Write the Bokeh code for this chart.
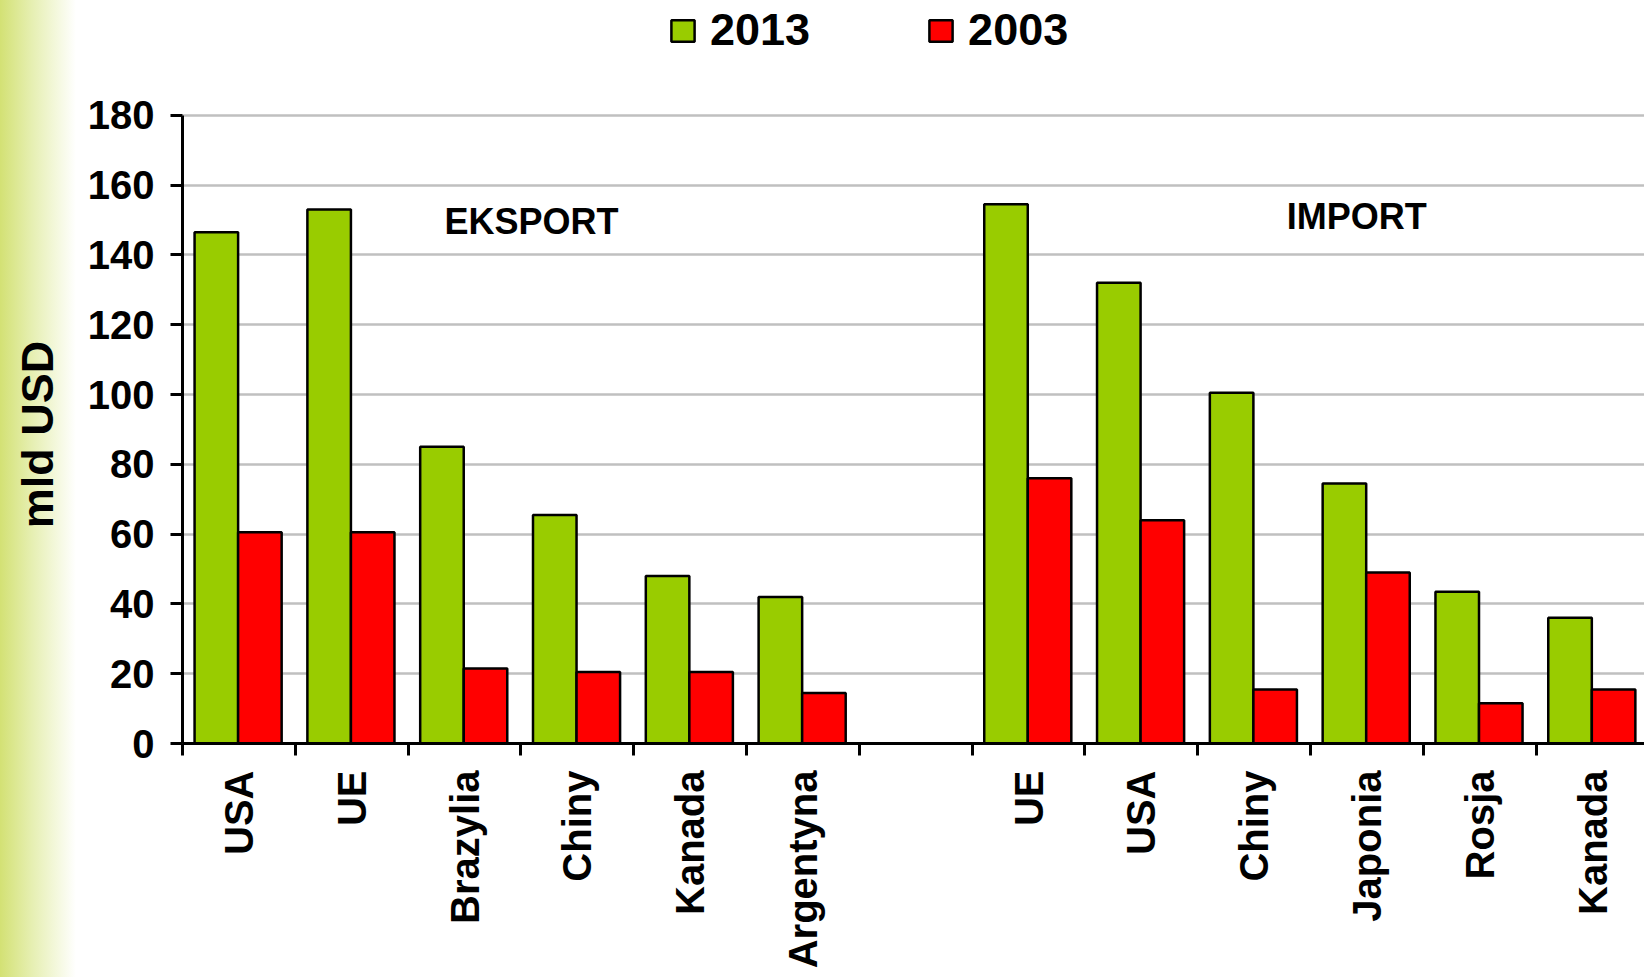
import numpy as np
from bokeh.plotting import figure
from bokeh.models import (ColumnDataSource, Range1d, FixedTicker, Legend, LegendItem, Label)
from bokeh.transform import dodge
from bokeh.embed import file_html
from bokeh.resources import INLINE

# ---------------- data ----------------
export_countries = ["USA", "UE", "Brazylia", "Chiny", "Kanada", "Argentyna"]
export_2013 = [146.5, 153, 85, 65.5, 48, 42]
export_2003 = [60.5, 60.5, 21.5, 20.5, 20.5, 14.5]

import_countries = ["UE", "USA", "Chiny", "Japonia", "Rosja", "Kanada"]
import_2013 = [154.5, 132, 100.5, 74.5, 43.5, 36]
import_2003 = [76, 64, 15.5, 49, 11.5, 15.5]

series_labels = ["2013", "2003"]
y_label = "mld USD"
group_labels = ["EKSPORT", "IMPORT"]
y_ticks = [0, 20, 40, 60, 80, 100, 120, 140, 160, 180]

# ---------------- style ----------------
FONT = "Liberation Sans"
GREEN = "#99CC00"
RED = "#FF0000"

W = 1644
H = 977

# category slots: 6 export, one empty, 6 import
n_exp = len(export_countries)
slots = list(range(n_exp)) + list(range(n_exp + 1, 2 * n_exp + 1))
centers = [s + 0.5 for s in slots]
names = export_countries + import_countries

src = ColumnDataSource(dict(
    center=centers,
    name=names,
    v2013=export_2013 + import_2013,
    v2003=export_2003 + import_2003,
))

# frame spans to the top of the canvas; the y axis itself is bounded to 0..180
p = figure(width=W, height=H, output_backend="svg", toolbar_location=None,
           x_range=Range1d(0, 12.96), y_range=Range1d(0, 212.9),
           min_border_left=182, min_border_right=0,
           min_border_top=0, min_border_bottom=234,
           styles={"background": "linear-gradient(to right, #d3e174 0px, #e6efb2 32px, #ffffff 76px)"})
p.outline_line_color = None
p.background_fill_color = "white"
p.border_fill_alpha = 0

g = p.vbar(x=dodge("center", -0.2), top="v2013", width=0.386, bottom=0, source=src,
           fill_color=GREEN, line_color="black", line_width=2.5)
r = p.vbar(x=dodge("center", 0.186), top="v2003", width=0.386, bottom=0, source=src,
           fill_color=RED, line_color="black", line_width=2.5)

# y axis
ya = p.yaxis[0]
ya.bounds = (0, 180)
ya.ticker = FixedTicker(ticks=y_ticks)
ya.axis_line_width = 3
ya.major_tick_line_width = 3
ya.major_tick_out = 12
ya.major_tick_in = 0
ya.minor_tick_line_color = None
ya.major_label_standoff = 16
ya.major_label_text_font = FONT
ya.major_label_text_font_style = "bold"
ya.major_label_text_font_size = "40px"
ya.major_label_text_color = "black"
# trailing no-break spaces move the centred title down to the middle of the 0..180 axis
ya.axis_label = y_label + "\u00a0" * 10
ya.axis_label_standoff = 22
ya.axis_label_text_font = FONT
ya.axis_label_text_font_style = "bold"
ya.axis_label_text_font_size = "45px"
ya.axis_label_text_color = "black"

# x axis: ticks at category boundaries, labels at centers
xa = p.xaxis[0]
xa.ticker = FixedTicker(ticks=centers, minor_ticks=list(range(0, 14)))
xa.major_label_overrides = {c: n for c, n in zip(centers, names)}
xa.axis_line_width = 3
xa.major_tick_line_color = None
xa.major_tick_out = 12
xa.major_tick_in = 0
xa.minor_tick_line_color = "black"
xa.minor_tick_line_width = 3
xa.minor_tick_out = 12
xa.minor_tick_in = 0
xa.major_label_orientation = np.pi / 2
xa.major_label_standoff = 15
xa.major_label_text_font = FONT
xa.major_label_text_font_style = "bold"
xa.major_label_text_font_size = "40px"
xa.major_label_text_color = "black"

p.xgrid.visible = False
p.ygrid.ticker = FixedTicker(ticks=y_ticks)
p.ygrid.grid_line_color = "#c0c0c0"
p.ygrid.grid_line_width = 2.5

# group labels
for txt, xx, yy in zip(group_labels, [3.094, 10.41], [149.7, 151.0]):
    p.add_layout(Label(x=xx, y=yy, text=txt, text_align="center", text_baseline="middle",
                       text_font=FONT, text_font_style="bold", text_font_size="36px",
                       text_color="black"))

legend = Legend(items=[LegendItem(label=series_labels[0], renderers=[g]),
                       LegendItem(label=series_labels[1], renderers=[r])],
                location=(486, 687), orientation="horizontal",
                glyph_width=29, glyph_height=27, label_standoff=13, spacing=116,
                padding=0, margin=0, border_line_color=None, background_fill_alpha=0,
                label_text_font=FONT, label_text_font_style="bold",
                label_text_font_size="45px", label_text_color="black")
p.add_layout(legend, "center")

open("out.html", "w").write(file_html(p, INLINE))
